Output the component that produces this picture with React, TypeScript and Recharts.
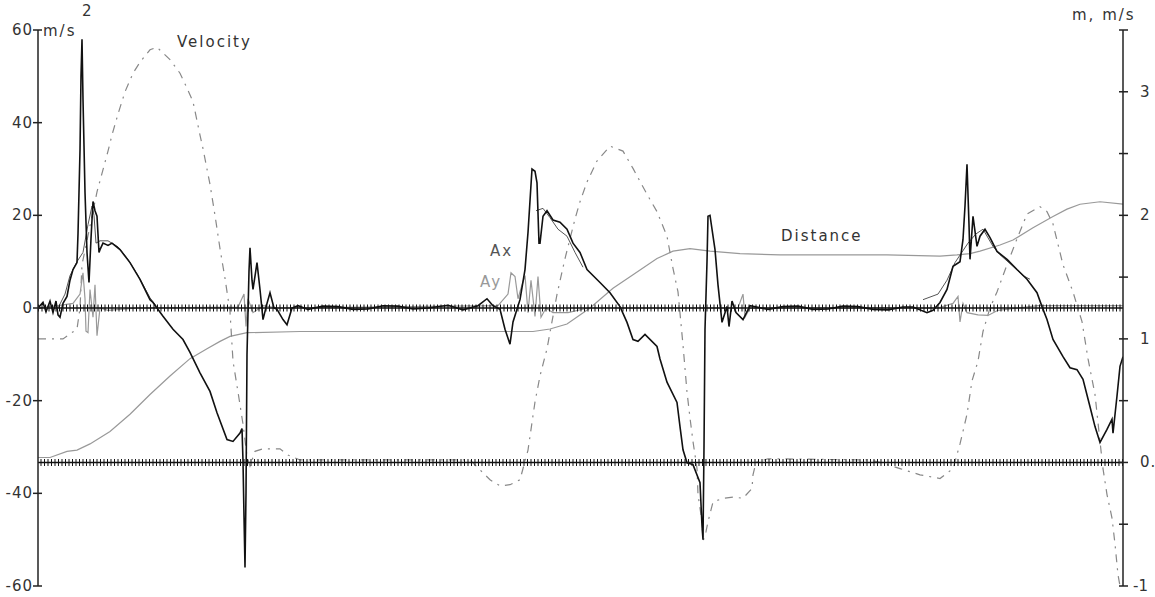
import React from 'react'
import { LineChart, Line, XAxis, YAxis, ReferenceLine } from 'recharts'

// time is in samples, [t, value]
const ax: [number, number][] = [
  [0, 0], [5, 1.2], [8, -0.8], [12, 1.5], [15, -1], [18, 1.5], [20, -1.5], [22, -2], [25, 1],
  [29, 2.5], [32, 6], [35, 8.3], [39, 9.8], [40, 16], [42, 34], [43, 50], [44, 58], [45, 45],
  [47, 25], [49, 12], [51, 5.5], [53, 15], [55, 23], [57, 21], [59, 19.8], [61, 12], [62, 12.6],
  [65, 14], [70, 13.5], [74, 14], [82, 12.6], [92, 9.8], [102, 6.2], [112, 1.8], [115, 1.2],
  [125, -1.8], [135, -4.6], [145, -6.8], [152, -9.6], [162, -14], [172, -18], [179, -22.6],
  [189, -28.4], [195, -28.8], [202, -27], [204, -26], [205, -33], [206, -45], [207, -56],
  [208, -40], [209, -10], [211, 8], [212, 13], [214, 6], [215, 4], [219, 9.8], [222, 4],
  [225, -2.5], [229, 1], [232, 3.3], [236, 0], [239, -0.3], [245, -2.5], [249, -3.6], [254, 0],
  [260, 0.5], [270, -0.3], [285, 0.4], [300, 0.3], [315, -0.3], [330, -0.2], [345, 0.5],
  [360, 0.4], [375, -0.2], [390, 0], [410, 0.6], [425, -0.4], [440, 0.5], [449, 2], [455, 0.5],
  [462, -0.3], [467, -4.6], [472, -7.8], [475, -3], [482, 1.8], [487, 8.3], [490, 16.3],
  [494, 30], [497, 29.5], [499, 27], [501, 14], [502, 14], [505, 19.8], [509, 21], [515, 19],
  [522, 18.5], [529, 17], [535, 14], [542, 12], [549, 8.3], [562, 5.5], [572, 3.3], [582, 0.3],
  [589, -3.1], [595, -6.8], [600, -7.2], [607, -5.7], [619, -8.3], [622, -11], [629, -16],
  [639, -20.4], [642, -25.6], [645, -30.6], [649, -33.4], [655, -33.8], [662, -37.7],
  [664, -47], [665, -50], [666, -30], [667, -4.6], [669, 10], [670, 19.8], [672, 20], [674, 17],
  [677, 12.6], [680, 5], [684, -3.1], [689, 0.3], [691, -4], [694, 1.5], [698, -1], [705, -2.5],
  [712, 0.5], [730, -0.3], [745, 0.3], [760, 0.4], [775, -0.3], [790, -0.2], [805, 0.4],
  [820, 0.3], [835, -0.3], [850, -0.4], [865, 0.2], [875, 0.2], [889, -1], [895, -0.5],
  [902, 1.2], [909, 4], [915, 9], [922, 10], [925, 14.8], [927, 22], [929, 31], [931, 18],
  [932, 10.5], [935, 19.8], [939, 13.3], [942, 15.5], [947, 17], [952, 15.2], [959, 12.2],
  [969, 10.5], [979, 8.3], [989, 6.2], [999, 3.3], [1004, 0.3], [1009, -2.5], [1015, -6.8],
  [1025, -10.5], [1032, -12.9], [1039, -13.3], [1045, -15.4], [1052, -21.3], [1057, -25.6],
  [1062, -29], [1069, -26.2], [1074, -24], [1075, -27], [1079, -19], [1082, -12.6], [1085, -10.5],
]

// second (filtered) Ax trace, only drawn around each push
const axFiltered: [number, number | null][] = [
  [20, 0], [27, 3], [32, 7], [39, 10], [45, 12], [50, 18], [54, 22], [56, 20], [58, 14],
  [62, 14.5], [70, 14.5], [80, 13.2], [90, 10.5], [100, 7], [112, 2.2], [118, 0.5], [119, null],
  [498, 21], [505, 21.5], [512, 19.5], [520, 17], [529, 15.5], [537, 12], [545, 8.8], [546, null],
  [885, 1.8], [900, 3], [909, 6], [917, 9.8], [930, 14], [938, 16], [945, 17], [955, 13.3],
  [962, 11.5], [975, 9], [985, 7], [992, 6.2], [993, null],
]

const ay: [number, number][] = [
  [0, 0], [20, 0.5], [35, 1], [42, 3], [45, 7.6], [47, 2], [48, -5], [50, -5.3], [52, 4],
  [55, -2], [57, 5], [59, -6], [62, 0], [70, -0.5], [100, 0], [200, 0.2], [206, 3], [208, -4],
  [210, 2], [215, -1], [225, 0.5], [240, 0], [460, 0.5], [470, 3], [473, 7.6], [477, 6.8],
  [480, 2], [484, 5], [487, 7], [490, -1], [493, 6], [497, -1.8], [500, 6.8], [503, -2],
  [508, 0], [515, -1], [530, -1], [550, 0], [700, 0], [705, 3], [707, -2], [712, 0], [900, 0],
  [915, 1], [920, 2.5], [922, -3], [925, 1], [929, -1], [940, -1.5], [950, -1.6], [960, -0.5],
  [1000, 0.5], [1085, 0.5],
]

const velocity: [number, number][] = [
  [0, 1.0], [25, 1.0], [39, 1.08], [42, 1.25], [44, 1.6], [59, 2.19], [64, 2.34], [70, 2.52],
  [74, 2.65], [80, 2.82], [87, 3.0], [95, 3.15], [102, 3.24], [112, 3.34], [119, 3.36],
  [132, 3.26], [142, 3.15], [149, 3.03], [155, 2.92], [162, 2.65], [165, 2.54], [172, 2.25],
  [177, 2.0], [182, 1.73], [187, 1.49], [192, 1.22], [195, 0.82], [200, 0.57], [205, 0.31],
  [209, 0.05], [212, -0.03], [217, 0.09], [225, 0.11], [242, 0.11], [250, 0.06], [262, 0.02],
  [432, 0.02], [442, -0.06], [452, -0.14], [462, -0.19], [472, -0.18], [482, -0.14],
  [490, 0.1], [497, 0.49], [502, 0.7], [509, 0.92], [519, 1.36], [527, 1.65], [537, 1.97],
  [542, 2.11], [549, 2.27], [559, 2.44], [572, 2.56], [585, 2.52], [595, 2.38], [609, 2.17],
  [619, 2.03], [629, 1.83], [635, 1.57], [640, 1.38], [645, 0.95], [649, 0.57], [652, 0.36],
  [655, 0.17], [659, -0.05], [660, -0.26], [664, -0.48], [665, -0.64], [668, -0.56],
  [670, -0.48], [675, -0.32], [685, -0.29], [695, -0.28], [705, -0.29], [714, -0.21],
  [715, -0.1], [718, 0], [730, 0.03], [832, 0.02], [842, 0], [862, -0.05], [882, -0.1],
  [902, -0.13], [915, -0.05], [922, 0.15], [929, 0.39], [934, 0.66], [940, 0.82], [945, 1.06],
  [952, 1.25], [959, 1.38], [969, 1.6], [979, 1.81], [989, 2.01], [1002, 2.07], [1009, 2.03],
  [1015, 1.93], [1025, 1.6], [1035, 1.38], [1044, 1.14], [1050, 0.84], [1057, 0.55],
  [1062, 0.17], [1065, -0.05], [1069, -0.26], [1074, -0.45], [1077, -0.66], [1080, -0.91],
  [1082, -1.0],
]

const distance: [number, number][] = [
  [0, 0.04], [12, 0.04], [29, 0.09], [39, 0.1], [52, 0.15], [72, 0.25], [92, 0.39],
  [112, 0.55], [132, 0.7], [152, 0.84], [169, 0.92], [182, 0.98], [192, 1.02], [209, 1.05],
  [262, 1.06], [495, 1.06], [512, 1.08], [529, 1.12], [552, 1.25], [575, 1.41], [595, 1.52],
  [619, 1.65], [635, 1.71], [652, 1.73], [672, 1.71], [702, 1.69], [742, 1.68], [849, 1.68],
  [902, 1.67], [919, 1.68], [932, 1.69], [942, 1.71], [962, 1.76], [975, 1.8], [995, 1.9],
  [1015, 1.99], [1029, 2.05], [1042, 2.09], [1062, 2.11], [1085, 2.09],
]

const accelTicks = [-60, -40, -20, 0, 20, 40, 60]
const distTicks = [-1, -0.5, 0, 0.5, 1, 1.5, 2, 2.5, 3, 3.5]
const distLabels: Record<string, string> = { '-1': '-1', '0': '0.', '1': '1', '2': '2', '3': '3' }

const toRows = (pts: [number, number | null][]) => pts.map(([t, v]) => ({ t, v }))

const font = '"DejaVu Sans", sans-serif'
const ink = '#333'

function LeftTick(props: any) {
  const { x, y, payload } = props
  return (
    <g>
      <line x1={x - 5} x2={x + 4} y1={y} y2={y} stroke="#222" strokeWidth={1.5} />
      <text x={x - 5} y={y} dy={5} textAnchor="end" fontSize={15} fill={ink} fontFamily={font} letterSpacing={1}>
        {payload.value}
      </text>
    </g>
  )
}

function RightTick(props: any) {
  const { x, y, payload } = props
  const label = distLabels[String(payload.value)]
  const neg = payload.value < 0
  return (
    <g>
      <line x1={x - 4} x2={x + 5} y1={y} y2={y} stroke="#222" strokeWidth={1.5} />
      {label && (
        <text x={neg ? x + 10 : x + 17} y={y} dy={5} textAnchor="start" fontSize={15} fill={ink} fontFamily={font} letterSpacing={neg ? 0 : 1}>
          {label}
        </text>
      )}
    </g>
  )
}

const txt = (left: number, top: number, color = ink): React.CSSProperties => ({
  position: 'absolute',
  left,
  top,
  fontFamily: font,
  fontSize: 15,
  letterSpacing: 2,
  color,
  lineHeight: 1,
  whiteSpace: 'nowrap',
})

export default function App() {
  return (
    <div style={{ position: 'absolute', left: 0, top: 0, width: 1155, height: 597, background: '#fff' }}>
      <LineChart width={1155} height={597} margin={{ top: 30, right: 0, bottom: 11, left: 0 }}>
        <XAxis xAxisId="t" type="number" dataKey="t" domain={[0, 1085]} hide allowDataOverflow />
        <YAxis
          yAxisId="acc"
          orientation="left"
          width={38}
          domain={[-60, 60]}
          ticks={accelTicks}
          interval={0}
          tickSize={0}
          tickMargin={0}
          tickLine={false}
          tick={<LeftTick />}
          axisLine={{ stroke: '#222', strokeWidth: 1.5 }}
          allowDataOverflow
        />
        <YAxis
          yAxisId="dist"
          orientation="right"
          width={32}
          domain={[-1, 3.5]}
          ticks={distTicks}
          interval={0}
          tickSize={0}
          tickMargin={0}
          tickLine={false}
          tick={<RightTick />}
          axisLine={{ stroke: '#222', strokeWidth: 1.5 }}
          allowDataOverflow
        />
        <Line xAxisId="t" yAxisId="dist" data={toRows(distance)} dataKey="v" type="linear" stroke="#999" strokeWidth={1.2} dot={false} isAnimationActive={false} />
        <Line xAxisId="t" yAxisId="dist" data={toRows(velocity)} dataKey="v" type="linear" stroke="#888" strokeWidth={1.2} strokeDasharray="8 6 2 6" dot={false} isAnimationActive={false} />
        <Line xAxisId="t" yAxisId="acc" data={toRows(ay)} dataKey="v" type="linear" stroke="#999" strokeWidth={1.2} dot={false} isAnimationActive={false} />
        <Line xAxisId="t" yAxisId="acc" data={toRows(axFiltered)} dataKey="v" type="linear" stroke="#555" strokeWidth={1} dot={false} isAnimationActive={false} />
        <Line xAxisId="t" yAxisId="acc" data={toRows(ax)} dataKey="v" type="linear" stroke="#111" strokeWidth={1.6} dot={false} isAnimationActive={false} />
        <ReferenceLine xAxisId="t" yAxisId="acc" y={0} stroke="#111" strokeWidth={1.5} />
        <ReferenceLine xAxisId="t" yAxisId="acc" y={0} stroke="#111" strokeWidth={7} strokeDasharray="1 2.5" />
        <ReferenceLine xAxisId="t" yAxisId="dist" y={0} stroke="#111" strokeWidth={1.5} />
        <ReferenceLine xAxisId="t" yAxisId="dist" y={0} stroke="#111" strokeWidth={7} strokeDasharray="1 2.5" />
      </LineChart>
      <div style={txt(43, 24)}>m/s</div>
      <div style={txt(82, 4)}>2</div>
      <div style={txt(1072, 8)}>m, m/s</div>
      <div style={txt(177, 35)}>Velocity</div>
      <div style={txt(781, 229)}>Distance</div>
      <div style={txt(490, 244, '#555')}>Ax</div>
      <div style={txt(480, 275, '#999')}>Ay</div>
    </div>
  )
}
